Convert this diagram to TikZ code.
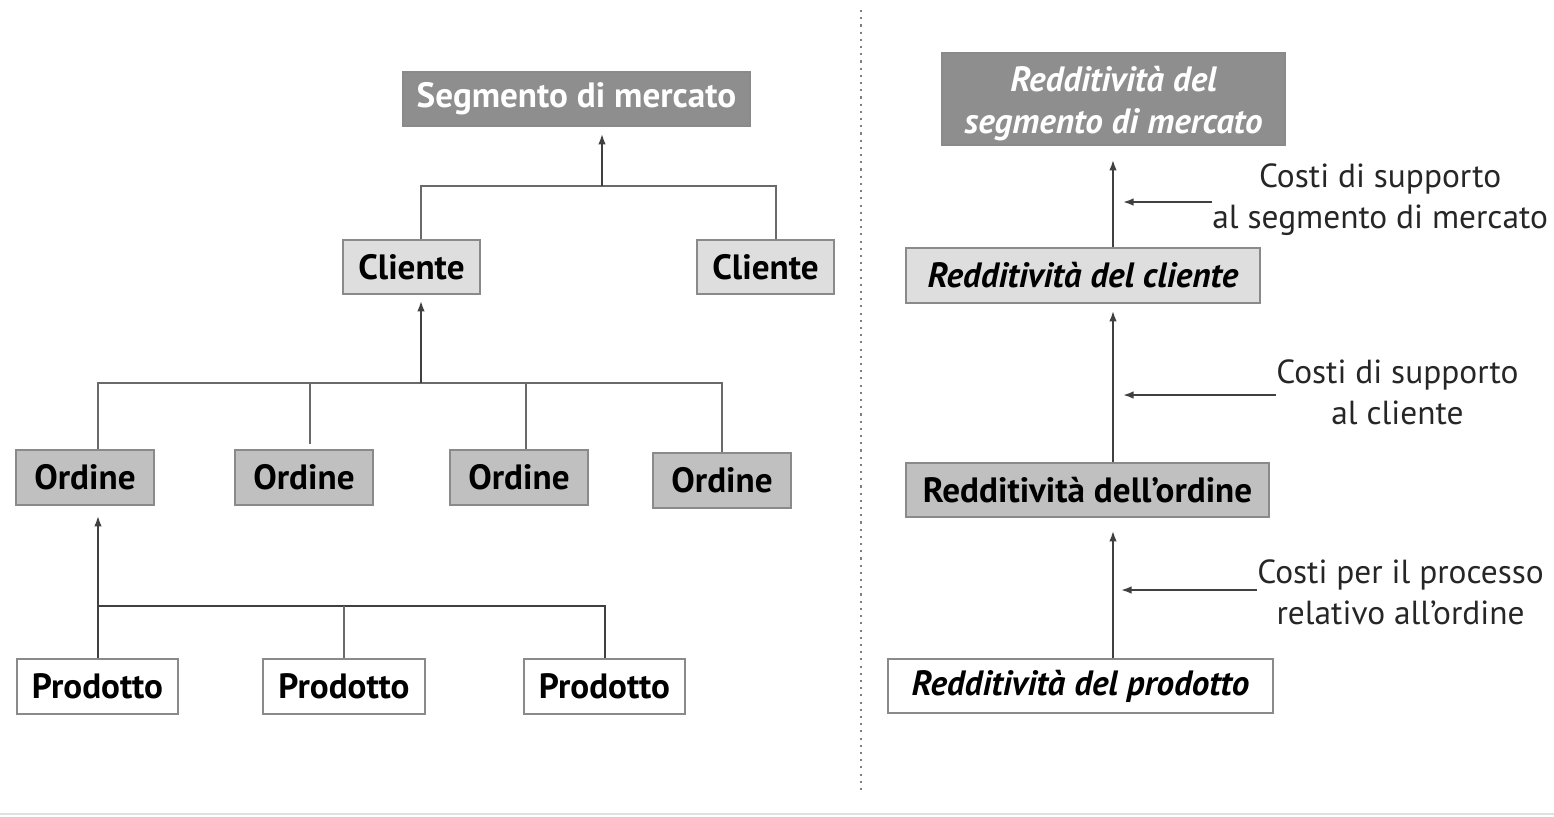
\documentclass[tikz,border=0pt]{standalone}
\usepackage{fontspec}
\setmainfont{PT Sans}
\usetikzlibrary{arrows.meta}
\definecolor{darkfill}{HTML}{8E8E8E}
\definecolor{midfill}{HTML}{C0C0C0}
\definecolor{lightfill}{HTML}{DEDEDE}
\definecolor{boxline}{HTML}{8A8A8A}
\definecolor{lineclr}{HTML}{6A6A6A}
\tikzset{
  box/.style={draw=boxline, line width=1pt, inner sep=0pt, font=\fontsize{20}{22}\selectfont\bfseries},
  darkbox/.style={box, fill=darkfill, text=white},
  midbox/.style={box, fill=midfill},
  lightbox/.style={box, fill=lightfill},
  whitebox/.style={box, fill=white},
  conn/.style={draw=lineclr, line width=0.9pt},
  darkconn/.style={draw=black!75, line width=1.1pt},
  arr/.style={draw=black!75, line width=1pt, -{Latex[length=0.21cm,width=0.15cm]}},
  lbl/.style={align=center, font=\fontsize{19}{23.5}\selectfont, inner sep=0pt, text=black!85},
}
\begin{document}
\begin{tikzpicture}[x=0.02cm, y=-0.02cm]
\useasboundingbox (0,0) rectangle (1554,816);
% faint bottom line
\draw[black!12, line width=0.8pt] (0,814) -- (1554,814);
% separator
\draw[gray, line width=1.3pt, dash pattern=on 1.2pt off 2.9pt] (861,10) -- (861,795);

% ---------- left tree ----------
\node[darkbox, minimum width=6.94cm, minimum height=1.08cm] (seg) at (576.5,99) {Segmento di mercato};
\node[lightbox, minimum width=2.74cm, minimum height=1.08cm] (cl1) at (411.5,267) {Cliente};
\node[lightbox, minimum width=2.74cm, minimum height=1.08cm] (cl2) at (765.5,267) {Cliente};
\node[midbox, minimum width=2.76cm, minimum height=1.1cm] (o1) at (85,477.5) {Ordine};
\node[midbox, minimum width=2.76cm, minimum height=1.1cm] (o2) at (304,477.5) {Ordine};
\node[midbox, minimum width=2.76cm, minimum height=1.1cm] (o3) at (519,477.5) {Ordine};
\node[midbox, minimum width=2.76cm, minimum height=1.1cm] (o4) at (722,480.5) {Ordine};
\node[whitebox, minimum width=3.22cm, minimum height=1.1cm] (p1) at (97.5,686.5) {Prodotto};
\node[whitebox, minimum width=3.24cm, minimum height=1.1cm] (p2) at (344,686.5) {Prodotto};
\node[whitebox, minimum width=3.22cm, minimum height=1.1cm] (p3) at (604.5,686.5) {Prodotto};

% level 1 junction
\coordinate (t1a) at (421,186);
\coordinate (t1b) at (776,186);
\coordinate (j1) at (602,186);
\draw[conn] (t1a |- cl1.north) -- (t1a) -- (t1b) -- (t1b |- cl2.north);
\draw[arr, shorten >=0.14cm] (j1) -- (j1 |- seg.south);

% level 2 junction
\coordinate (t2a) at (98,383);
\coordinate (t2b) at (310,383);
\coordinate (t2c) at (526,383);
\coordinate (t2d) at (722,383);
\coordinate (j2) at (421,383);
\draw[conn] (t2a |- o1.north) -- (t2a) -- (t2d) -- (t2d |- o4.north);
\draw[conn, shorten >=0.1cm] (t2b) -- (t2b |- o2.north);
\draw[conn] (t2c) -- (t2c |- o3.north);
\draw[arr, shorten >=0.12cm] (j2) -- (j2 |- cl1.south);

% level 3 junction
\coordinate (t3a) at (98,606);
\coordinate (t3b) at (344,606);
\coordinate (t3c) at (605,606);
\draw[darkconn] (t3a |- p1.north) -- (t3a) -- (t3c) -- (t3c |- p3.north);
\draw[conn] (t3b) -- (t3b |- p2.north);
\draw[arr, shorten >=0.2cm] (t3a) -- (t3a |- o1.south);

% ---------- right chain ----------
\node[darkbox, minimum width=6.86cm, minimum height=1.84cm, align=center,
      font=\fontsize{20}{24}\selectfont\bfseries\itshape] (r1) at (1113.5,99) {\rule{0pt}{20pt}Redditività del\\segmento di mercato};
\node[lightbox, minimum width=7.08cm, minimum height=1.1cm, font=\fontsize{20}{22}\selectfont\bfseries\itshape] (r2) at (1083,275.5) {Redditività del cliente};
\node[midbox, minimum width=7.26cm, minimum height=1.08cm] (r3) at (1087.5,490) {Redditività dell’ordine};
\node[whitebox, minimum width=7.7cm, minimum height=1.08cm, font=\fontsize{20}{22}\selectfont\bfseries\itshape] (r4) at (1080.5,686) {Redditività del prodotto};

\coordinate (a) at (1113,400);
\draw[arr, shorten >=0.28cm] (a |- r2.north) -- (a |- r1.south);
\draw[arr, shorten >=0.14cm] (a |- r3.north) -- (a |- r2.south);
\draw[arr, shorten >=0.26cm] (a |- r4.north) -- (a |- r3.south);

\node[lbl, anchor=west] (c1) at (1212,200) {Costi di supporto\\al segmento di mercato};
\node[lbl, anchor=west] (c2) at (1276,392) {Costi di supporto\\al cliente};
\node[lbl, anchor=west] (c3) at (1257,592) {Costi per il processo\\relativo all’ordine};

\draw[arr, shorten >=0.2cm] (c1.west) ++(0,2) coordinate (c1s) -- (c1s -| a);
\draw[arr, shorten >=0.2cm] (c2.west) ++(0,3) coordinate (c2s) -- (c2s -| a);
\draw[arr, shorten >=0.16cm] (c3.west) ++(0,-2) coordinate (c3s) -- (c3s -| a);
\end{tikzpicture}
\end{document}
